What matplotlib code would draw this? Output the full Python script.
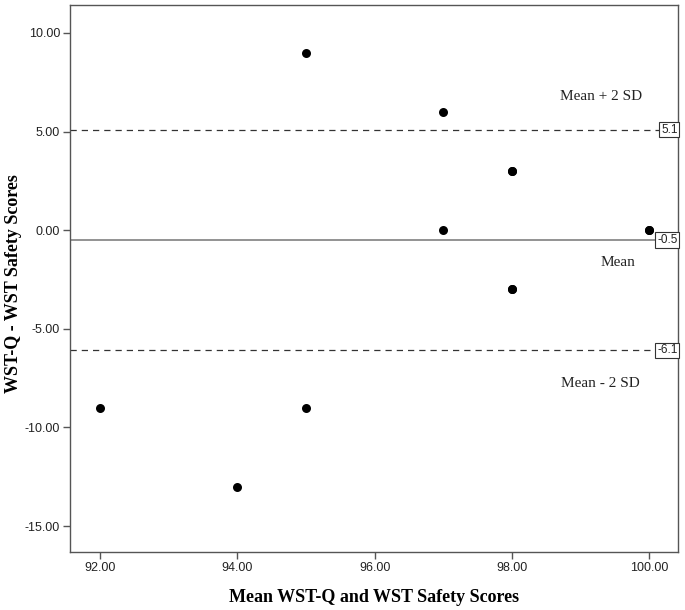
import matplotlib
matplotlib.use("Agg")
import matplotlib.pyplot as plt
import matplotlib.transforms as mtransforms

# Data
mean_scores = [92, 94, 95, 95, 97, 97, 98, 98, 98, 98, 100, 100]
diff_scores = [-9, -13, 9, -9, 6, 0, 3, 3, -3, -3, 0, 0]
mean_diff = -0.5
upper_loa = 5.1
lower_loa = -6.1
x_ticks = [92, 94, 96, 98, 100]
y_ticks = [10, 5, 0, -5, -10, -15]

fig = plt.figure(figsize=(6.85, 6.10), dpi=100)
ax = fig.add_axes([0.102, 0.095, 0.888, 0.897])

ax.scatter(mean_scores, diff_scores, s=42, color='black', zorder=3, linewidths=0)

ax.axhline(mean_diff, color='#808080', lw=1.2, zorder=2)
ax.axhline(upper_loa, color='#333333', lw=0.9, ls=(0, (5, 4)), zorder=2)
ax.axhline(lower_loa, color='#333333', lw=0.9, ls=(0, (5, 4)), zorder=2)

ax.set_xlim(91.56, 100.42)
ax.set_ylim(-16.32, 11.42)
ax.set_xticks(x_ticks)
ax.set_xticklabels([f"{v:.2f}" for v in x_ticks])
ax.set_yticks(y_ticks)
ax.set_yticklabels([f"{v:.2f}" for v in y_ticks])

for sp in ax.spines.values():
    sp.set_color('#555555')
    sp.set_linewidth(1.0)
ax.tick_params(direction='out', length=5, width=1, color='#555555',
               labelsize=9, labelcolor='#222222', pad=2)
for lbl in ax.get_xticklabels() + ax.get_yticklabels():
    lbl.set_family('Liberation Sans')

ax.set_xlabel('Mean WST-Q and WST Safety Scores', family='Liberation Serif',
              fontweight='bold', fontsize=13, labelpad=11)
ax.set_ylabel('WST-Q - WST Safety Scores', family='Liberation Serif',
              fontweight='bold', fontsize=13)
ax.yaxis.set_label_coords(-0.078, 0.49)

trans = mtransforms.blended_transform_factory(ax.transAxes, ax.transData)
for val in [upper_loa, mean_diff, lower_loa]:
    ax.text(0.999, val, f"{val:.1f}", transform=trans, ha='right', va='center',
            family='Liberation Sans', fontsize=8.5, color='#222222',
            bbox=dict(boxstyle='square,pad=0.15', fc='white', ec='#333333', lw=0.8),
            zorder=4)

ax.text(99.29, 6.8, 'Mean + 2 SD', family='Liberation Serif', fontsize=11,
        ha='center', va='center', color='#222222')
ax.text(99.55, -1.62, 'Mean', family='Liberation Serif', fontsize=11,
        ha='center', va='center', color='#222222')
ax.text(99.29, -7.75, 'Mean - 2 SD', family='Liberation Serif', fontsize=11,
        ha='center', va='center', color='#222222')

fig.savefig('out.png', dpi=100)
